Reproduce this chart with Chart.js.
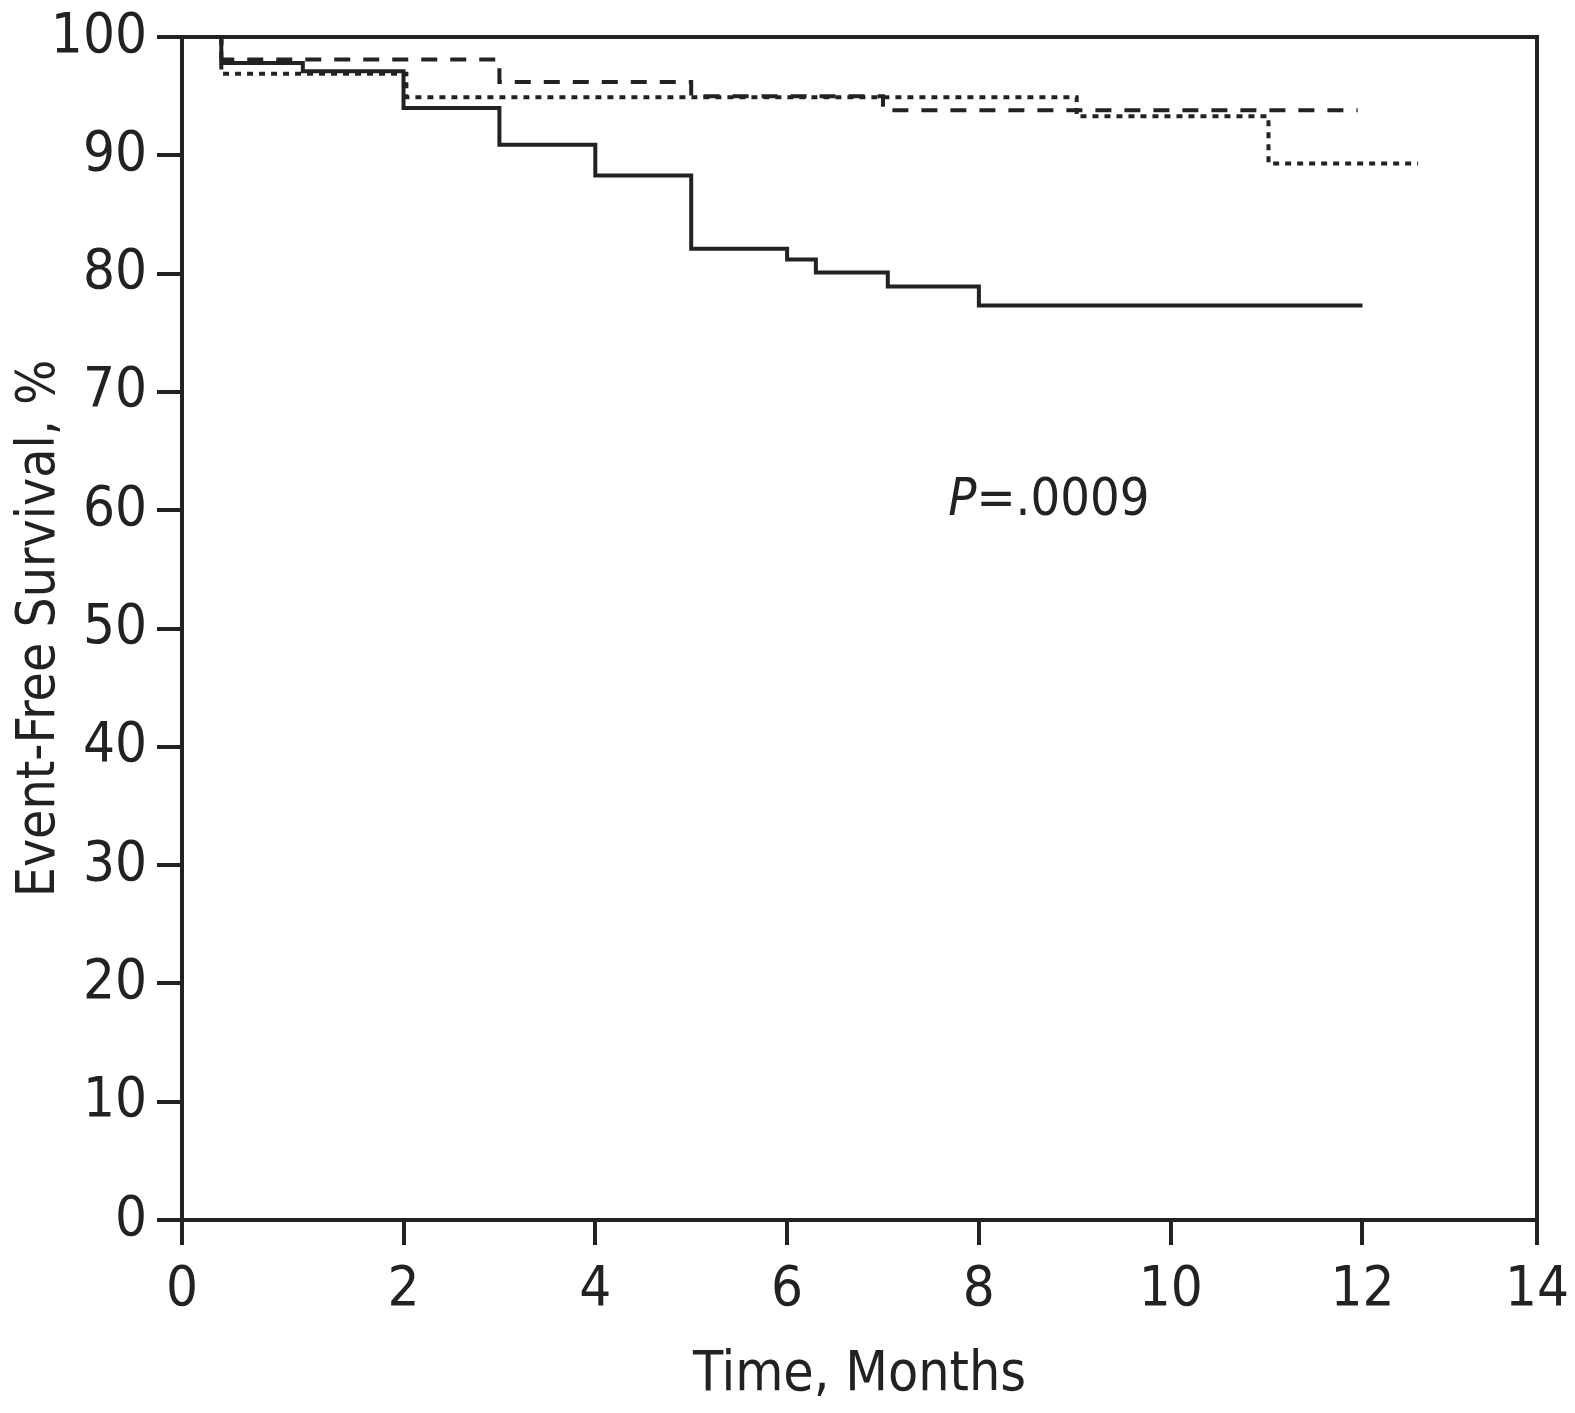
<!DOCTYPE html>
<html>
<head>
<meta charset="utf-8">
<script src="https://cdn.jsdelivr.net/npm/chart.js@4/dist/chart.umd.min.js"></script>
<style>
  html, body { margin: 0; padding: 0; background: #fff; overflow: hidden; }
  #wrap { width: 1575px; height: 1413px; }
  canvas { display: block; }
</style>
</head>
<body>
<div id="wrap"><canvas id="km" width="1575" height="1413"></canvas></div>
<script>
// Kaplan-Meier curves, event-free survival by month

// the printed axis runs a little before 0 and stops short of 14,
// with the end labels pinned to the frame corners
const xRange = [-0.31, 13.82];
const xTickValues = [-0.31, 2, 4, 6, 8, 10, 12, 13.82];
const xTickLabels = ['0', '2', '4', '6', '8', '10', '12', '14'];
const yTicks = [0, 10, 20, 30, 40, 50, 60, 70, 80, 90, 100];

// solid curve (lowest)
const solidMonths = [0, 0.1, 0.95, 2, 3, 4, 5, 6, 6.3, 7.05, 8, 12];
const solidSurv   = [100, 97.8, 97.1, 94.0, 90.9, 88.3, 82.1, 81.2, 80.1, 78.9, 77.3, 77.3];

// dashed curve (top)
const dashedMonths = [0, 0.1, 3, 5, 7, 11.95];
const dashedSurv   = [100, 98.1, 96.2, 95.0, 93.8, 93.8];

// dotted curve (middle)
const dottedMonths = [0, 0.1, 2.03, 9.02, 11.02, 12.58];
const dottedSurv   = [100, 96.9, 94.9, 93.3, 89.3, 89.3];

const pLabel = { prefix: 'P', rest: '=.0009', x: 7.68, y: 60.7 };

const INK = '#222';
const FONT = "'Liberation Sans Narrow', 'DejaVu Sans Condensed', 'Roboto', sans-serif";

const toPoints = (xs, ys) => xs.map((x, i) => ({ x, y: ys[i] }));

// full box around the plot + the P value text
const framePlugin = {
  id: 'frame',
  afterDatasetsDraw(chart) {
    const { ctx, chartArea: a, scales } = chart;
    ctx.save();
    ctx.strokeStyle = INK;
    ctx.lineWidth = 4;
    ctx.strokeRect(a.left, a.top, a.right - a.left, a.bottom - a.top);

    const px = scales.x.getPixelForValue(pLabel.x);
    const py = scales.y.getPixelForValue(pLabel.y);
    ctx.fillStyle = INK;
    ctx.textBaseline = 'middle';
    ctx.textAlign = 'left';
    ctx.font = 'italic 52px ' + FONT;
    ctx.fillText(pLabel.prefix, px, py);
    const w = ctx.measureText(pLabel.prefix).width;
    ctx.font = '52px ' + FONT;
    ctx.fillText(pLabel.rest, px + w, py);
    ctx.restore();
  }
};

const lineStyle = {
  borderColor: INK,
  borderWidth: 4,
  pointRadius: 0,
  stepped: true,
  fill: false,
  borderCapStyle: 'butt'
};

new Chart(document.getElementById('km'), {
  type: 'line',
  data: {
    datasets: [
      Object.assign({ label: 'solid', data: toPoints(solidMonths, solidSurv) }, lineStyle),
      Object.assign({ label: 'dashed', data: toPoints(dashedMonths, dashedSurv), borderDash: [16, 13] }, lineStyle),
      Object.assign({ label: 'dotted', data: toPoints(dottedMonths, dottedSurv), borderDash: [6, 6] }, lineStyle)
    ]
  },
  options: {
    responsive: false,
    animation: false,
    devicePixelRatio: 1,
    layout: { padding: { top: 37, right: 38, bottom: 0, left: 0 } },
    plugins: {
      legend: { display: false },
      tooltip: { enabled: false }
    },
    scales: {
      x: {
        type: 'linear',
        min: xRange[0],
        max: xRange[1],
        afterBuildTicks: (s) => { s.ticks = xTickValues.map(v => ({ value: v })); },
        afterFit: (s) => { s.height = 193; s.paddingLeft = 0; s.paddingRight = 0; },
        ticks: {
          color: INK,
          font: { family: FONT, size: 56 },
          padding: 12,
          maxRotation: 0,
          callback: (v, i) => xTickLabels[i]
        },
        grid: { drawOnChartArea: false, drawTicks: true, tickLength: 25, color: INK, lineWidth: 4 },
        border: { display: true, color: INK, width: 4 },
        title: {
          display: true,
          text: 'Time, Months',
          color: INK,
          font: { family: FONT, size: 55 },
          padding: { top: 0, bottom: 4 }
        }
      },
      y: {
        type: 'linear',
        min: 0,
        max: 100,
        afterBuildTicks: (s) => { s.ticks = yTicks.map(v => ({ value: v })); },
        afterFit: (s) => { s.width = 182; s.paddingTop = 0; s.paddingBottom = 0; },
        ticks: { color: INK, font: { family: FONT, size: 56 }, padding: 10 },
        grid: { drawOnChartArea: false, drawTicks: true, tickLength: 25, color: INK, lineWidth: 4 },
        border: { display: true, color: INK, width: 4 },
        title: {
          display: true,
          text: 'Event-Free Survival, %',
          color: INK,
          font: { family: FONT, size: 53 },
          padding: { top: 8, bottom: 0 }
        }
      }
    }
  },
  plugins: [framePlugin]
});
</script>
</body>
</html>
